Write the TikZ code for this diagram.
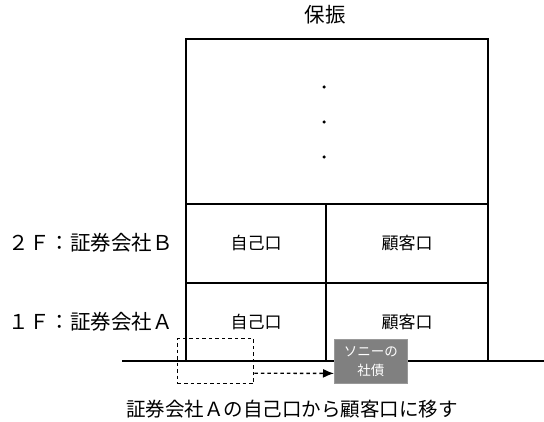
\documentclass[tikz,border=0pt]{standalone}
\usepackage{fontspec}
\setmainfont{Noto Sans CJK JP}
\usetikzlibrary{arrows.meta}
\begin{document}
\begin{tikzpicture}[x=1pt,y=-1pt,
  frame/.style={line width=1.6pt},
  cell/.style={font=\fontsize{17}{20}\selectfont},
  floorlabel/.style={font=\fontsize{20.5}{24}\selectfont, anchor=east, inner sep=0pt},
  dashbox/.style={draw, line width=1.4pt, dash pattern=on 3.5pt off 3pt, minimum width=76pt, minimum height=45pt, anchor=north west, inner sep=0pt},
  bondbox/.style={fill=black!50, draw=black!40, line width=0.8pt, text=white, align=center, minimum width=73pt, minimum height=44pt, anchor=north west, inner sep=0pt, font=\fontsize{13.5}{19}\selectfont},
  dot/.style={circle, fill=black, inner sep=0pt, minimum size=3.5pt}]
\useasboundingbox (0,0) rectangle (544,422);
\node[font=\fontsize{20.5}{24}\selectfont] (title) at (325,15) {保振};
\draw[frame] (186,39) rectangle (488,361);
\draw[frame] (186,204) -- (488,204);
\draw[frame] (186,283) -- (488,283);
\draw[frame] (326,204) -- (326,361);
\draw[frame] (122,361) -- (544,361);
\node[dot] (d1) at (324,87) {};
\node[dot] (d2) at (324,122) {};
\node[dot] (d3) at (324,157) {};
\node[floorlabel] (f2) at (173,243) {２Ｆ：証券会社Ｂ};
\node[floorlabel] (f1) at (173,322) {１Ｆ：証券会社Ａ};
\node[cell] (own2) at (256,243) {自己口};
\node[cell] (cust2) at (407,243) {顧客口};
\node[cell] (own1) at (256,322) {自己口};
\node[cell] (cust1) at (407,322) {顧客口};
\node[dashbox] (src) at (177,338) {};
\node[bondbox] (bond) at (334,339) {ソニーの\\社債};
\draw[line width=1.4pt, dash pattern=on 3.5pt off 3pt, -{Latex[length=11pt,width=9pt]}] ([yshift=-12pt]src.east) -- ([yshift=-12pt]bond.west);
\node[font=\fontsize{19.5}{24}\selectfont] (caption) at (292,409) {証券会社Ａの自己口から顧客口に移す};
\end{tikzpicture}
\end{document}
